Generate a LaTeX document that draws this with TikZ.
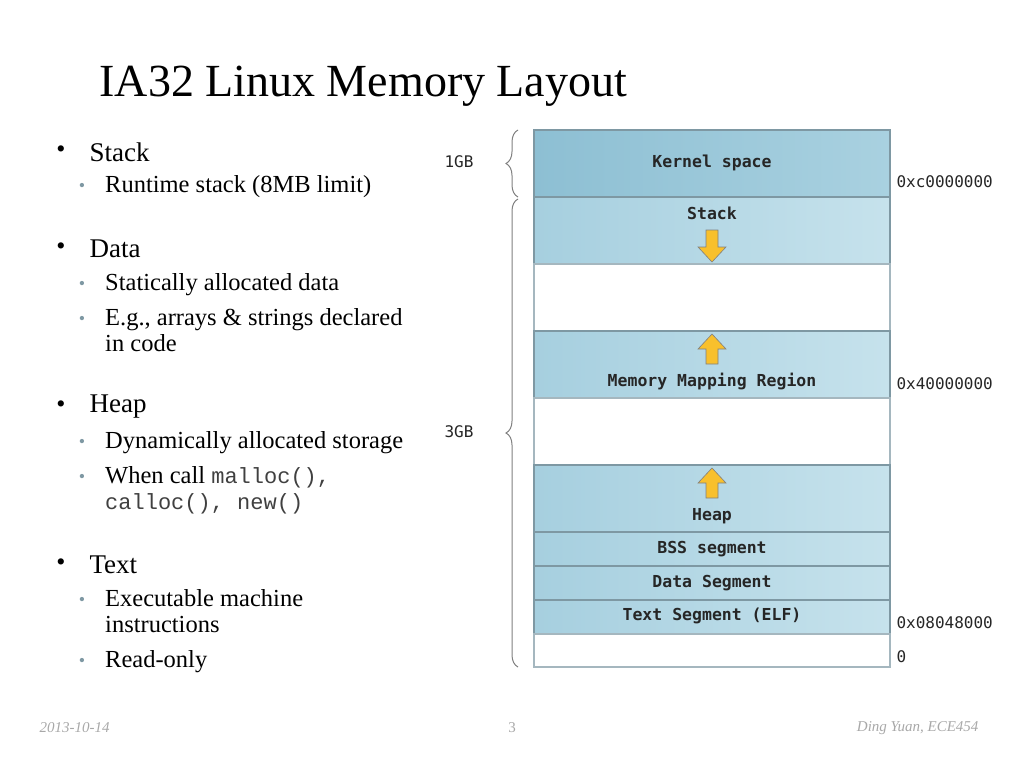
\documentclass[tikz,border=0pt]{standalone}
\usepackage{fontspec}
\setmainfont{Liberation Serif}
\newfontfamily\boxfont{DejaVu Sans Mono}
\newfontfamily\codefont{Liberation Mono}
\usetikzlibrary{decorations.pathreplacing}
\definecolor{segA}{HTML}{A6CFDF}
\definecolor{segB}{HTML}{C6E2EC}
\definecolor{kerA}{HTML}{8DBFD3}
\definecolor{kerB}{HTML}{A9D1E0}
\definecolor{segline}{HTML}{7E98A3}
\definecolor{arrowY}{HTML}{F8C02C}
\definecolor{footgray}{HTML}{A8A8A8}
\begin{document}
\begin{tikzpicture}[x=1pt,y=-1pt,
  seg/.style={draw=segline,line width=1.2pt,left color=segA,right color=segB},
  ker/.style={draw=segline,line width=1.2pt,left color=kerA,right color=kerB},
  gap/.style={draw=segline!70,line width=1.2pt,fill=white},
  lab/.style={font=\boxfont\bfseries\fontsize{16.5}{18}\selectfont,text=black!85},
  addr/.style={anchor=west,font=\boxfont\fontsize{16}{18}\selectfont,text=black!85},
  bul/.style={anchor=west,font=\fontsize{27}{32}\selectfont},
  sub/.style={anchor=north west,inner sep=0pt,font=\fontsize{24.5}{26}\selectfont,align=left},
  dot/.style={anchor=center,font=\fontsize{26}{30}\selectfont},
  sdot/.style={anchor=center,text=segline,font=\fontsize{18}{20}\selectfont},
  garrow/.style={fill=arrowY,draw=black!50,line width=0.6pt},
  br/.style={draw=gray,line width=1pt,decorate,decoration={brace,amplitude=12pt}}]
\useasboundingbox (0,0) rectangle (1024,768);
% title
\node[anchor=west,font=\fontsize{46}{48}\selectfont] (title) at (96,86) {IA32 Linux Memory Layout};
% bullets
\node[dot] (d1) at (61,152) {\textbullet}; \node[bul] (b1) at (86,152) {Stack};
\node[sdot] (e1) at (82,187) {\textbullet}; \node[sub] (s1) at (105,175) {Runtime stack (8MB limit)};
\node[dot] (d2) at (61,249) {\textbullet}; \node[bul] (b2) at (86,249) {Data};
\node[sdot] (e2) at (82,285) {\textbullet}; \node[sub] (s2) at (105,273) {Statically allocated data};
\node[sdot] (e3) at (82,320) {\textbullet}; \node[sub] (s3) at (105,308) {E.g., arrays \& strings declared\\in code};
\node[dot] (d3) at (61,407) {\textbullet}; \node[bul] (b3) at (86,407) {Heap};
\node[sdot] (e4) at (82,443) {\textbullet}; \node[sub] (s4) at (105,431) {Dynamically allocated storage};
\node[sdot] (e5) at (82,478) {\textbullet}; \node[sub] (s5) at (105,466) {When call {\codefont\fontsize{22}{26}\selectfont\color{black!75}malloc(),}\\{\codefont\fontsize{22}{26}\selectfont\color{black!75}calloc(), new()}};
\node[dot] (d4) at (61,565) {\textbullet}; \node[bul] (b4) at (86,565) {Text};
\node[sdot] (e6) at (82,601) {\textbullet}; \node[sub] (s6) at (105,589) {Executable machine\\instructions};
\node[sdot] (e7) at (82,662) {\textbullet}; \node[sub] (s7) at (105,650) {Read-only};
% memory segments
\draw[ker] (534,130) rectangle (890,197);
\draw[seg] (534,197) rectangle (890,264);
\draw[gap] (534,264) rectangle (890,331);
\draw[seg] (534,331) rectangle (890,398);
\draw[gap] (534,398) rectangle (890,465);
\draw[seg] (534,465) rectangle (890,532);
\draw[seg] (534,532) rectangle (890,566);
\draw[seg] (534,566) rectangle (890,600);
\draw[seg] (534,600) rectangle (890,634);
\draw[gap] (534,634) rectangle (890,667);
\node[lab] (kernel) at (712,163) {Kernel space};
\node[lab] (stack) at (712,213) {Stack};
\node[lab] (mmap) at (712,382) {Memory Mapping Region};
\node[lab] (heap) at (712,516) {Heap};
\node[lab] (bss) at (712,549) {BSS segment};
\node[lab] (data) at (712,583) {Data Segment};
\node[lab] (text) at (712,616) {Text Segment (ELF)};
% arrows
\draw[garrow] (706,230) -- (718,230) -- (718,247) -- (726,247) -- (712,262) -- (698,247) -- (706,247) -- cycle;
\draw[garrow] (706,364) -- (718,364) -- (718,349) -- (726,349) -- (712,334) -- (698,349) -- (706,349) -- cycle;
\draw[garrow] (706,498) -- (718,498) -- (718,483) -- (726,483) -- (712,468) -- (698,483) -- (706,483) -- cycle;
% addresses
\node[addr] (a1) at (893,182) {0xc0000000};
\node[addr] (a2) at (893,384) {0x40000000};
\node[addr] (a3) at (893,623) {0x08048000};
\node[addr] (a4) at (893,657) {0};
% braces
\coordinate (g1t) at (518,130); \coordinate (g1b) at (518,197);
\coordinate (g3t) at (518,199); \coordinate (g3b) at (518,667);
\draw[br] (g1b) -- (g1t);
\draw[br] (g3b) -- (g3t);
\node[font=\boxfont\fontsize{16}{18}\selectfont,text=black!85] (l1) at (459,162) {1GB};
\node[font=\boxfont\fontsize{16}{18}\selectfont,text=black!85] (l3) at (459,432) {3GB};
% footer
\node[anchor=west,font=\itshape\fontsize{15}{17}\selectfont,text=footgray] (date) at (36,728) {2013-10-14};
\node[font=\fontsize{15}{17}\selectfont,text=footgray] (page) at (512,728) {3};
\node[anchor=east,font=\itshape\fontsize{15}{17}\selectfont,text=footgray] (auth) at (982,728) {Ding Yuan, ECE454};
\end{tikzpicture}
\end{document}
